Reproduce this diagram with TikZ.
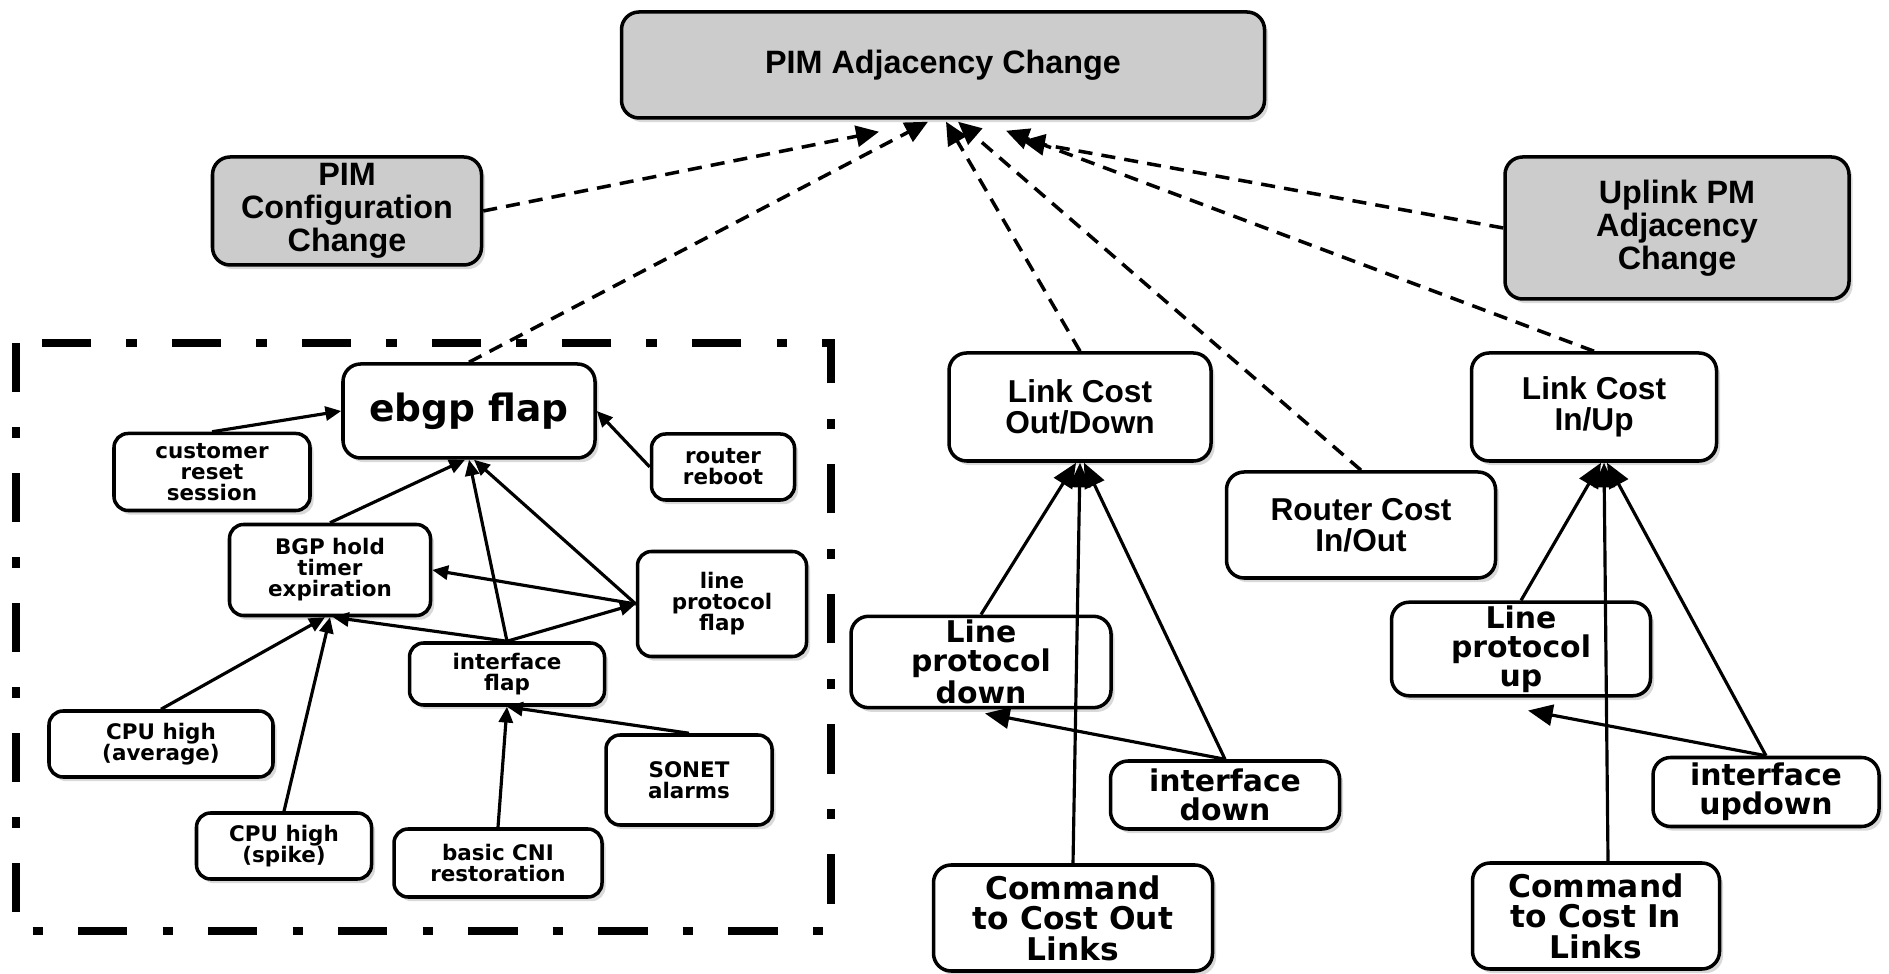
\documentclass[tikz,border=0pt]{standalone}
\usepackage{fontspec}
\usetikzlibrary{arrows.meta,shadows}
\newfontfamily\arialfont{Liberation Sans}
\newfontfamily\verdfont{DejaVu Sans}
\definecolor{boxgray}{RGB}{204,204,204}
\tikzset{box/.style={
    draw, line width=1pt, rounded corners=5pt, fill=white,
    align=center, inner sep=1pt,
    drop shadow={shadow xshift=1pt, shadow yshift=-1.2pt, opacity=0.3}
  },
  sz/.style 2 args={minimum width=#1cm, minimum height=#2cm},
  graybox/.style={box, fill=boxgray, font=\arialfont\bfseries\fontsize{9.2}{9.4}\selectfont},
  smallbox/.style={box, rounded corners=4pt, font=\verdfont\bfseries\fontsize{6.1}{6.0}\selectfont},
  bigbox/.style={box, font=\verdfont\bfseries\fontsize{8.5}{8.2}\selectfont},
  costbox/.style={box, font=\arialfont\bfseries\fontsize{9}{8.8}\selectfont},
  dep/.style={line width=1pt, dash pattern=on 4pt off 2.6pt, -{Triangle[length=6.5pt,width=6pt]}},
  cause/.style={line width=0.9pt, -{Triangle[length=4.5pt,width=4pt]}},
  bigcause/.style={line width=0.9pt, -{Triangle[length=7pt,width=6pt]}},
  frame/.style={line width=2.2pt, dash pattern=on 14pt off 10pt on 3pt off 10pt}
}
\begin{document}
\begin{tikzpicture}
    \useasboundingbox (0,0) rectangle (18.89,-9.74);

    \node[graybox, sz={6.43}{1.06}] (adj) at (9.43,-0.65) {PIM Adjacency Change};
    \node[graybox, sz={2.69}{1.08}] (cfg) at (3.47,-2.11) {PIM\\Configuration\\Change};
    \node[graybox, sz={3.44}{1.42}] (uplink) at (16.77,-2.28) {Uplink PM\\Adjacency\\Change};

    \begin{scope}
        \draw[frame] (0.16,-3.43) rectangle (8.31,-9.31);

        \node[box, sz={2.52}{0.94}, font=\verdfont\bfseries\fontsize{10.7}{11}\selectfont] (ebgp) at (4.69,-4.11) {ebgp flap};
        \node[smallbox, sz={1.96}{0.77}] (cust) at (2.12,-4.72) {customer\\reset\\session};
        \node[smallbox, sz={1.43}{0.66}] (reboot) at (7.23,-4.67) {router\\reboot};
        \node[smallbox, sz={2.01}{0.91}] (bgp) at (3.30,-5.70) {BGP hold\\timer\\expiration};
        \node[smallbox, sz={1.69}{1.05}] (lpf) at (7.22,-6.04) {line\\protocol\\flap};
        \node[smallbox, sz={1.95}{0.62}] (iflap) at (5.07,-6.74) {interface\\flap};
        \node[smallbox, sz={2.24}{0.66}] (cpuavg) at (1.61,-7.44) {CPU high\\(average)};
        \node[smallbox, sz={1.66}{0.90}] (sonet) at (6.89,-7.80) {SONET\\alarms};
        \node[smallbox, sz={1.75}{0.66}] (spike) at (2.84,-8.46) {CPU high\\(spike)};
        \node[smallbox, sz={2.08}{0.68}] (cni) at (4.98,-8.63) {basic CNI\\restoration};

        \draw[cause] (cust.north) -- (ebgp.west);
        \draw[cause] (reboot.west) -- (ebgp.east);
        \draw[cause] (bgp.north) -- ([xshift=-0.04cm]ebgp.south);
        \draw[cause] (iflap.north) -- (ebgp.south);
        \draw[cause] (lpf.west) -- ([xshift=0.05cm]ebgp.south);
        \draw[cause] (lpf.west) -- (bgp.east);
        \draw[cause] (iflap.north) -- (lpf.west);
        \draw[cause] (iflap.north) -- ([xshift=0.03cm]bgp.south);
        \draw[cause] (cpuavg.north) -- ([xshift=-0.05cm]bgp.south);
        \draw[cause] (spike.north) -- (bgp.south);
        \draw[cause] (cni.north) -- (iflap.south);
        \draw[cause] (sonet.north) -- (iflap.south);
    \end{scope}

    \begin{scope}
        \node[costbox, sz={2.62}{1.08}] (lcod) at (10.80,-4.07) {Link Cost\\Out/Down};
        \node[costbox, sz={2.69}{1.06}] (rc) at (13.61,-5.25) {Router Cost\\In/Out};
        \node[costbox, sz={2.45}{1.08}] (lciu) at (15.94,-4.07) {Link Cost\\In/Up};
        \node[bigbox, sz={2.60}{0.90}] (lpd) at (9.81,-6.62) {Line\\protocol\\down};
        \node[bigbox, sz={2.29}{0.68}] (ifdown) at (12.25,-7.95) {interface\\down};
        \node[bigbox, sz={2.79}{1.06}, font=\verdfont\bfseries\fontsize{8.9}{8.7}\selectfont] (cmdout) at (10.73,-9.18) {Command\\to Cost Out\\Links};
        \node[bigbox, sz={2.59}{0.93}] (lpu) at (15.21,-6.49) {Line\\protocol\\up};
        \node[bigbox, sz={2.26}{0.69}] (ifud) at (17.66,-7.92) {interface\\updown};
        \node[bigbox, sz={2.47}{1.06}, font=\verdfont\bfseries\fontsize{8.9}{8.7}\selectfont] (cmdin) at (15.96,-9.16) {Command\\to Cost In\\Links};

        \draw[bigcause] (lpd.north) -- ([xshift=-0.04cm]lcod.south);
        \draw[bigcause] (cmdout.north) -- (lcod.south);
        \draw[bigcause] (ifdown.north) -- ([xshift=0.04cm]lcod.south);
        \draw[bigcause] (ifdown.north) -- ([shift={(0.04,-0.04)}]lpd.south);
        \draw[bigcause] (lpu.north) -- ([xshift=0.07cm]lciu.south);
        \draw[bigcause] ([xshift=0.12cm]cmdin.north) -- ([xshift=0.1cm]lciu.south);
        \draw[bigcause] (ifud.north) -- ([xshift=0.13cm]lciu.south);
        \draw[bigcause] (ifud.north) -- ([shift={(0.07,-0.13)}]lpu.south);
    \end{scope}

    \draw[dep] (cfg.east) -- ([shift={(-0.64,-0.12)}]adj.south);
    \draw[dep] (ebgp.north) -- ([shift={(-0.15,-0.02)}]adj.south);
    \draw[dep] (lcod.north) -- ([shift={(0.03,-0.02)}]adj.south);
    \draw[dep] (rc.north) -- ([shift={(0.15,-0.02)}]adj.south);
    \draw[dep] (lciu.north) -- ([shift={(0.63,-0.11)}]adj.south);
    \draw[dep] (uplink.west) -- ([shift={(0.79,-0.21)}]adj.south);
\end{tikzpicture}
\end{document}
